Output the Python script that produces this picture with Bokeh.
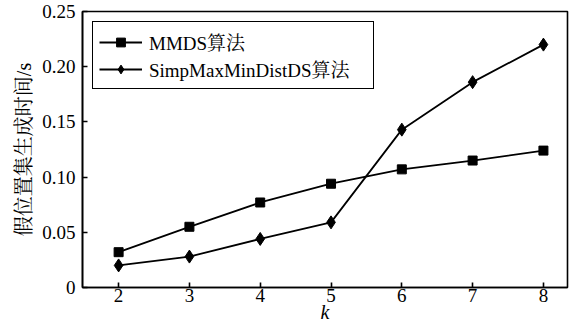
from bokeh.plotting import figure
from bokeh.models import FixedTicker, Range1d, Legend, LegendItem
from bokeh.embed import file_html
from bokeh.resources import INLINE

k = [2, 3, 4, 5, 6, 7, 8]
mmds = [0.032, 0.055, 0.077, 0.094, 0.107, 0.115, 0.124]
simp = [0.020, 0.028, 0.044, 0.059, 0.143, 0.186, 0.220]
y_ticks = [0, 0.05, 0.10, 0.15, 0.20, 0.25]
y_labels = ["0", "0.05", "0.10", "0.15", "0.20", "0.25"]
x_ticks = [2, 3, 4, 5, 6, 7, 8]
series_names = ["MMDS算法", "SimpMaxMinDistDS算法"]
y_title = "假位置集生成时间/s"
x_title = "k"

FONT = "Liberation Serif, 'Noto Serif CJK SC', 'Noto Sans CJK SC', serif"

p = figure(width=570, height=329, output_backend="svg", toolbar_location=None,
           x_range=Range1d(1.49, 8.34), y_range=Range1d(0, 0.25),
           min_border_left=82, min_border_right=3, min_border_top=11, min_border_bottom=42)
p.grid.visible = False
p.outline_line_color = "black"
p.outline_line_width = 1.6
p.background_fill_color = "white"
p.border_fill_color = "white"

for ax in (p.xaxis[0], p.yaxis[0]):
    ax.axis_line_color = "black"
    ax.axis_line_width = 1.6
    ax.major_tick_in = 5
    ax.major_tick_out = 0
    ax.major_tick_line_color = "black"
    ax.major_tick_line_width = 1.6
    ax.minor_tick_line_color = None
    ax.major_label_text_font = FONT
    ax.major_label_text_font_size = "19px"
    ax.major_label_text_color = "black"
    ax.axis_label_text_font = FONT
    ax.axis_label_text_font_size = "20px"
    ax.axis_label_text_color = "black"

p.yaxis.ticker = FixedTicker(ticks=y_ticks)
p.yaxis.major_label_overrides = {t: l for t, l in zip(y_ticks, y_labels)}
p.yaxis.axis_label = y_title
p.yaxis.axis_label_text_font_style = "normal"
p.yaxis.major_label_standoff = 7
p.yaxis.axis_label_standoff = 4
p.xaxis.ticker = FixedTicker(ticks=x_ticks)
p.xaxis.axis_label = x_title
p.xaxis.axis_label_text_font_style = "italic"
p.xaxis.major_label_standoff = 1
p.xaxis.axis_label_standoff = -4

l1 = p.line(k, mmds, line_color="black", line_width=1.8)
s1 = p.scatter(k, mmds, marker="square", size=9, fill_color="black", line_color="black")
l2 = p.line(k, simp, line_color="black", line_width=1.8)
s2 = p.scatter(k, simp, marker="diamond", size=13, fill_color="black", line_color="black")

legend = Legend(items=[LegendItem(label=series_names[0], renderers=[l1, s1]),
                       LegendItem(label=series_names[1], renderers=[l2, s2])],
                location="top_left")
legend.margin = 10
legend.padding = 6
legend.spacing = 0
legend.glyph_width = 43
legend.glyph_height = 22
legend.label_standoff = 7
legend.label_height = 22
legend.label_width = 218
legend.label_text_font = FONT
legend.label_text_font_size = "19px"
legend.label_text_color = "black"
legend.border_line_color = "black"
legend.border_line_alpha = 1
legend.border_line_width = 1.6
legend.background_fill_alpha = 1
p.add_layout(legend)

open("out.html", "w").write(file_html(p, INLINE))
